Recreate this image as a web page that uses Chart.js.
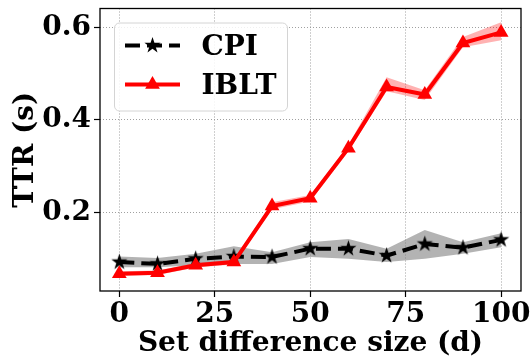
<!DOCTYPE html>
<html><head><meta charset="utf-8">
<script src="https://cdn.jsdelivr.net/npm/chart.js@4/dist/chart.umd.min.js"></script>
<style>html,body{margin:0;padding:0;background:#fff;}</style>
</head><body>
<canvas id="c" width="530" height="358"></canvas>
<script>
// ---- data ----
const setSizes = [0, 10, 20, 30, 40, 50, 60, 70, 80, 90, 100];
const cpiMean  = [0.093, 0.089, 0.100, 0.105, 0.104, 0.122, 0.122, 0.107, 0.132, 0.124, 0.141];
const cpiUpper = [0.105, 0.102, 0.111, 0.127, 0.114, 0.136, 0.143, 0.122, 0.162, 0.136, 0.155];
const cpiLower = [0.082, 0.082, 0.086, 0.089, 0.089, 0.104, 0.100, 0.093, 0.100, 0.111, 0.125];
const ibltMean  = [0.068, 0.070, 0.086, 0.093, 0.214, 0.231, 0.339, 0.471, 0.455, 0.566, 0.589];
const ibltUpper = [0.073, 0.075, 0.091, 0.098, 0.222, 0.238, 0.346, 0.492, 0.464, 0.579, 0.611];
const ibltLower = [0.063, 0.065, 0.081, 0.088, 0.207, 0.224, 0.332, 0.462, 0.443, 0.557, 0.572];
const xTicks = [0, 25, 50, 75, 100];
const yTicks = [0.2, 0.4, 0.6];
const seriesLabels = ['CPI', 'IBLT'];
const xTitle = 'Set difference size (d)';
const yTitle = 'TTR (s)';

const FONT = {family: "'DejaVu Serif', serif", weight: 'bold', size: 28};

function makeStar(R, color) {
  const s = Math.ceil(R * 2 + 2);
  const c = document.createElement('canvas');
  c.width = s; c.height = s;
  const g = c.getContext('2d');
  g.fillStyle = color;
  g.beginPath();
  for (let i = 0; i < 10; i++) {
    const r = i % 2 ? R * 0.382 : R;
    const a = -Math.PI / 2 + i * Math.PI / 5;
    g.lineTo(s / 2 + r * Math.cos(a), s / 2 + r * Math.sin(a));
  }
  g.closePath(); g.fill();
  return c;
}
const starImg = makeStar(8.5, '#000');

const pts = (arr) => setSizes.map((x, i) => ({x, y: arr[i]}));
const band = (arr, fill, color, order) => ({
  data: pts(arr), fill: fill, backgroundColor: color, borderColor: 'rgba(0,0,0,0)',
  borderWidth: 0, pointRadius: 0, pointHoverRadius: 0, order: order, isBand: true
});

const datasets = [
  band(cpiUpper, '+1', 'rgba(128,128,128,0.6)', 6),
  band(cpiLower, false, 'rgba(0,0,0,0)', 7),
  {label: seriesLabels[0], data: pts(cpiMean), borderColor: '#000', backgroundColor: '#000',
   borderWidth: 4, borderDash: [15, 7], pointStyle: starImg, pointRadius: 8, pointBorderWidth: 0,
   fill: false, order: 4, tension: 0},
  band(ibltUpper, '+1', 'rgba(255,0,0,0.3)', 3),
  band(ibltLower, false, 'rgba(0,0,0,0)', 3.5),
  {label: seriesLabels[1], data: pts(ibltMean), borderColor: '#ff0000', backgroundColor: '#ff0000',
   borderWidth: 4, pointStyle: 'triangle', pointRadius: 8.5, pointBorderWidth: 0,
   fill: false, order: 1, tension: 0}
];

const framePlugin = {
  id: 'frame',
  afterDatasetsDraw(chart) {
    const {ctx, chartArea: a} = chart;
    ctx.save();
    ctx.strokeStyle = '#000'; ctx.lineWidth = 1.3;
    ctx.strokeRect(a.left, a.top, a.right - a.left, a.bottom - a.top);
    ctx.restore();
  }
};

const legendPlugin = {
  id: 'mplLegend',
  afterDraw(chart) {
    const {ctx, chartArea: a} = chart;
    const bx = a.left + 14.5, by = a.top + 14.5, bw = 173, bh = 88, r = 5;
    ctx.save();
    ctx.beginPath();
    ctx.moveTo(bx + r, by); ctx.lineTo(bx + bw - r, by); ctx.arcTo(bx + bw, by, bx + bw, by + r, r);
    ctx.lineTo(bx + bw, by + bh - r); ctx.arcTo(bx + bw, by + bh, bx + bw - r, by + bh, r);
    ctx.lineTo(bx + r, by + bh); ctx.arcTo(bx, by + bh, bx, by + bh - r, r);
    ctx.lineTo(bx, by + r); ctx.arcTo(bx, by, bx + r, by, r); ctx.closePath();
    ctx.fillStyle = 'rgba(255,255,255,0.85)'; ctx.fill();
    ctx.strokeStyle = '#d4d4d4'; ctx.lineWidth = 1; ctx.stroke();
    const lines = chart.data.datasets.filter(d => !d.isBand);
    lines.forEach((d, i) => {
      const y = by + 22.5 + i * 39;
      const x0 = bx + 10.5, x1 = bx + 65.5, xm = (x0 + x1) / 2;
      ctx.save();
      ctx.strokeStyle = d.borderColor; ctx.lineWidth = d.borderWidth;
      ctx.setLineDash(d.borderDash || []);
      ctx.beginPath(); ctx.moveTo(x0, y); ctx.lineTo(x1, y); ctx.stroke();
      ctx.restore();
      if (typeof d.pointStyle === 'object') {
        ctx.drawImage(d.pointStyle, xm - d.pointStyle.width / 2, y - d.pointStyle.height / 2);
      } else {
        const rr = d.pointRadius;
        ctx.fillStyle = d.backgroundColor;
        ctx.beginPath();
        let rad = 0;
        for (let k = 0; k < 3; k++) {
          ctx.lineTo(xm + Math.sin(rad) * rr, y - Math.cos(rad) * rr);
          rad += 2 * Math.PI / 3;
        }
        ctx.closePath(); ctx.fill();
      }
      ctx.fillStyle = '#000';
      ctx.font = "bold 28px 'DejaVu Serif', serif";
      ctx.textBaseline = 'alphabetic'; ctx.textAlign = 'left';
      ctx.fillText(d.label, bx + 87, y + 9.5);
    });
    ctx.restore();
  }
};

const gridCommon = {
  color: 'rgba(150,150,150,0.9)', lineWidth: 1,
  drawTicks: true, tickLength: 6, tickColor: '#000', tickWidth: 1.2, tickBorderDash: []
};
const borderCommon = {display: false, dash: [1, 2]};

new Chart(document.getElementById('c'), {
  type: 'line',
  data: {datasets},
  options: {
    responsive: false, animation: false, devicePixelRatio: 1,
    layout: {padding: {top: 6, right: 9, left: 0, bottom: 0}},
    plugins: {legend: {display: false}, tooltip: {enabled: false}},
    events: [],
    scales: {
      x: {
        type: 'linear', min: -5.06, max: 105.2,
        afterBuildTicks: s => { s.ticks = xTicks.map(v => ({value: v})); },
        afterFit: s => { s.height = 67; s.paddingLeft = 0; s.paddingRight = 0; },
        ticks: {font: FONT, color: '#000', padding: 1, maxRotation: 0, autoSkip: false,
                callback: v => String(v)},
        grid: gridCommon,
        border: borderCommon,
        title: {display: true, text: xTitle, font: FONT, color: '#000', padding: {top: 0, bottom: -3}}
      },
      y: {
        type: 'linear', min: 0.0305, max: 0.6407,
        afterBuildTicks: s => { s.ticks = yTicks.map(v => ({value: v})); },
        afterFit: s => { s.width = 100; s.paddingTop = 0; s.paddingBottom = 0; },
        ticks: {font: FONT, color: '#000', padding: 3, autoSkip: false,
                callback: v => Number(v).toFixed(1)},
        grid: gridCommon,
        border: borderCommon,
        title: {display: true, text: yTitle, font: FONT, color: '#000', padding: {top: 9, bottom: 0}}
      }
    }
  },
  plugins: [framePlugin, legendPlugin]
});
</script>
</body></html>
